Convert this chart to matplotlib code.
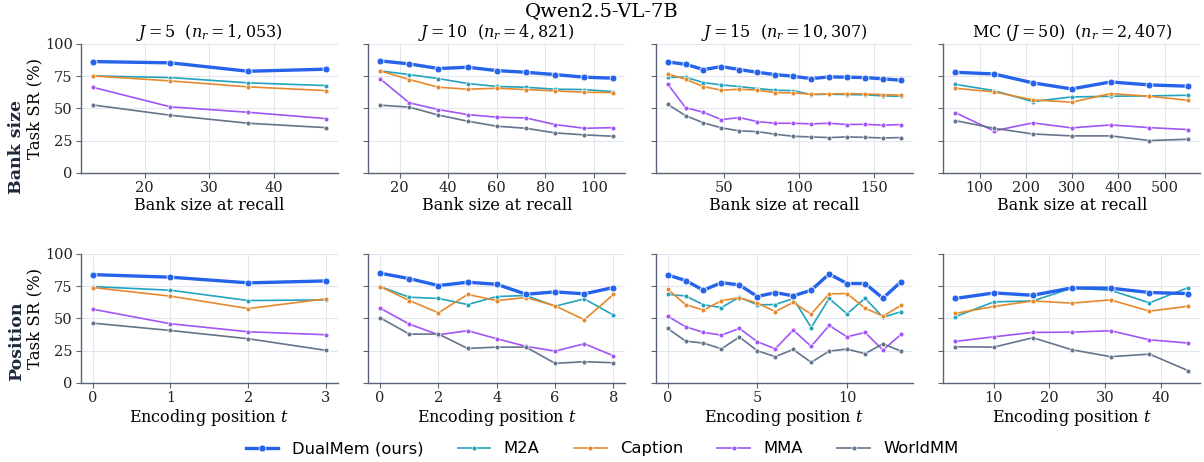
import numpy as np
import matplotlib
matplotlib.use("Agg")
from matplotlib import pyplot as plt
from matplotlib.lines import Line2D

plt.rcParams['font.family'] = 'DejaVu Serif'
plt.rcParams['mathtext.fontset'] = 'dejavuserif'

methods = ['DualMem (ours)', 'M2A', 'Caption', 'MMA', 'WorldMM']
colors = ['#2563eb', '#22a3bd', '#e5892c', '#a155f5', '#64748b']

panel_titles = [r'$J=5$  $(n_r=1,053)$', r'$J=10$  $(n_r=4,821)$',
                r'$J=15$  $(n_r=10,307)$', r'MC $(J=50)$  $(n_r=2,407)$']

# ---- row 1: bank size at recall ----
bank_x = [
    [12, 24, 36, 48],
    [12, 24, 36, 48, 60, 72, 84, 96, 108],
    [12, 24, 36, 48, 60, 72, 84, 96, 108, 120, 132, 144, 156, 168],
    [47, 131, 215, 299, 383, 467, 551],
]
bank_dualmem = [
    [86.3, 85.3, 78.8, 80.4],
    [86.8, 84.5, 80.9, 81.9, 79.3, 78.0, 76.2, 74.2, 73.4],
    [86.0, 84.2, 80.1, 82.4, 80.1, 78.0, 76.2, 74.9, 73.1, 74.4, 74.2, 73.9, 72.9, 71.8],
    [78.0, 76.7, 69.8, 65.1, 70.5, 68.2, 67.2],
]
bank_m2a = [
    [75.2, 73.9, 69.8, 67.7],
    [79.1, 76.2, 73.1, 69.3, 67.0, 66.4, 64.9, 64.6, 63.0],
    [74.2, 74.2, 70.0, 68.2, 66.9, 65.4, 64.1, 63.8, 60.7, 61.0, 60.7, 60.5, 59.7, 59.4],
    [68.7, 63.8, 55.3, 58.9, 59.4, 59.7, 60.2],
]
bank_caption = [
    [75.2, 71.3, 66.7, 63.8],
    [79.1, 72.4, 66.4, 64.9, 65.6, 64.6, 63.6, 62.5, 62.3],
    [76.7, 72.6, 66.9, 64.1, 64.9, 64.1, 62.3, 62.0, 61.0, 61.2, 61.5, 61.2, 60.7, 60.2],
    [65.6, 62.8, 56.6, 54.8, 61.5, 59.4, 56.3],
]
bank_mma = [
    [66.4, 51.2, 47.0, 42.1],
    [72.9, 54.3, 49.1, 45.2, 43.2, 42.6, 37.5, 34.6, 35.1],
    [69.0, 50.6, 47.0, 41.3, 42.9, 39.8, 38.5, 38.5, 38.0, 38.5, 37.5, 37.7, 37.0, 37.5],
    [46.8, 32.6, 38.8, 34.9, 37.2, 35.1, 33.6],
]
bank_worldmm = [
    [52.7, 44.7, 38.5, 35.1],
    [52.5, 51.0, 44.8, 40.1, 36.2, 34.6, 31.0, 29.5, 28.4],
    [53.2, 44.4, 38.8, 34.9, 32.6, 32.0, 30.0, 28.4, 27.9, 27.4, 27.9, 27.6, 27.1, 27.4],
    [40.6, 34.6, 30.2, 28.7, 28.7, 25.1, 26.1],
]

# ---- row 2: encoding position ----
pos_x = [
    [0, 1, 2, 3],
    [0, 1, 2, 3, 4, 5, 6, 7, 8],
    [0, 1, 2, 3, 4, 5, 6, 7, 8, 9, 10, 11, 12, 13],
    [3, 10, 17, 24, 31, 38, 45],
]
pos_dualmem = [
    [84.0, 82.0, 77.6, 79.1],
    [85.1, 80.9, 75.5, 78.1, 76.5, 68.8, 70.6, 69.1, 74.0],
    [83.8, 79.4, 71.9, 77.8, 76.0, 67.0, 70.1, 67.5, 71.9, 84.5, 77.1, 77.1, 65.7, 78.4],
    [65.5, 69.8, 68.0, 73.7, 73.5, 70.1, 69.3],
]
pos_m2a = [
    [74.7, 71.9, 63.9, 64.4],
    [74.7, 66.5, 65.5, 60.8, 67.0, 67.8, 59.5, 65.2, 52.6],
    [68.6, 67.5, 60.6, 58.5, 66.5, 60.6, 60.8, 65.5, 43.0, 65.5, 53.6, 65.7, 51.0, 55.2],
    [51.3, 62.9, 63.6, 73.5, 71.9, 62.1, 74.0],
]
pos_caption = [
    [74.0, 67.3, 57.7, 65.2],
    [74.7, 63.9, 54.4, 68.6, 63.9, 66.2, 59.8, 49.0, 68.6],
    [72.7, 60.8, 56.4, 63.9, 66.0, 61.9, 55.4, 62.4, 53.4, 69.1, 69.3, 58.0, 51.8, 60.1],
    [53.9, 59.3, 63.6, 61.9, 64.4, 55.7, 59.5],
]
pos_mma = [
    [57.2, 45.9, 39.7, 37.4],
    [58.0, 45.6, 37.4, 40.5, 34.3, 28.4, 24.7, 30.4, 21.1],
    [51.8, 43.6, 39.2, 37.1, 42.3, 32.0, 26.5, 41.0, 28.4, 44.6, 35.8, 39.2, 25.5, 37.6],
    [32.2, 35.8, 39.2, 39.4, 40.5, 33.5, 30.9],
]
pos_worldmm = [
    [46.4, 40.7, 34.3, 25.3],
    [50.5, 37.9, 37.9, 26.8, 27.8, 27.8, 15.2, 16.5, 15.7],
    [42.3, 32.5, 30.9, 26.5, 35.6, 25.0, 20.4, 26.0, 16.0, 24.7, 26.3, 22.7, 30.4, 24.7],
    [28.1, 27.8, 35.1, 25.8, 20.4, 22.4, 9.5],
]

bank_series = [bank_dualmem, bank_m2a, bank_caption, bank_mma, bank_worldmm]
pos_series = [pos_dualmem, pos_m2a, pos_caption, pos_mma, pos_worldmm]

fig, axes = plt.subplots(2, 4, figsize=(12.04, 4.62), dpi=100)
fig.subplots_adjust(left=0.0673, right=0.9967, top=0.905, bottom=0.171,
                    wspace=0.12, hspace=0.628)

spine_col = '#5a6478'

def draw(ax, xs, series):
    for k in range(len(methods)):
        if k == 0:
            ax.plot(xs, series[k], color=colors[k], lw=2.4, marker='o', ms=5,
                    mec='white', mew=0.6, zorder=5)
        else:
            ax.plot(xs, series[k], color=colors[k], lw=1.2, marker='o', ms=3.5,
                    mec='white', mew=0.5, zorder=4)
    ax.set_ylim(0, 100)
    ax.set_yticks([0, 25, 50, 75, 100])
    ax.grid(True, color='#e3e6ee', lw=0.8)
    ax.set_axisbelow(True)
    for s in ['top', 'right']:
        ax.spines[s].set_visible(False)
    for s in ['left', 'bottom']:
        ax.spines[s].set_color(spine_col)
        ax.spines[s].set_linewidth(1.0)
    ax.tick_params(colors='#222222', labelsize=10.5, length=3.5, color=spine_col, pad=2.5)

for j in range(4):
    ax = axes[0, j]
    draw(ax, bank_x[j], [s[j] for s in bank_series])
    ax.set_title(panel_titles[j], fontsize=11.5, pad=5)
    ax.set_xlabel('Bank size at recall', fontsize=11.5, labelpad=1)
    ax = axes[1, j]
    draw(ax, pos_x[j], [s[j] for s in pos_series])
    ax.set_xlabel(r'Encoding position $t$', fontsize=11.5, labelpad=1)
    if j > 0:
        axes[0, j].set_yticklabels([])
        axes[1, j].set_yticklabels([])

axes[0, 0].set_xticks([20, 30, 40])
axes[0, 1].set_xticks([20, 40, 60, 80, 100])
axes[0, 2].set_xticks([50, 100, 150])
axes[0, 3].set_xticks([100, 200, 300, 400, 500])
axes[1, 3].set_xticks([10, 20, 30, 40])

for r in range(2):
    axes[r, 0].set_ylabel('Task SR (%)', fontsize=12)
    axes[r, 0].yaxis.set_label_coords(-0.148, 0.5)

# row labels sit a bit below the row centres, as in the original
fig.text(0.0135, 0.683, 'Bank size', rotation=90, ha='center', va='center',
         fontsize=12.5, fontweight='bold', color='#1e293b')
fig.text(0.0135, 0.262, 'Position', rotation=90, ha='center', va='center',
         fontsize=12.5, fontweight='bold', color='#1e293b')

fig.suptitle('Qwen2.5-VL-7B', fontsize=14, y=0.995)

handles = []
for k in range(len(methods)):
    handles.append(Line2D([0], [0], color=colors[k], lw=2.4 if k == 0 else 1.2,
                          marker='o', ms=5 if k == 0 else 3.5, mec='white', mew=0.5))
fig.legend(handles, methods, loc='lower center', ncol=5, frameon=False,
           bbox_to_anchor=(0.5, -0.02), prop={'family': 'DejaVu Sans', 'size': 11.8},
           columnspacing=2.1, handlelength=2.0)

fig.savefig('out.png', dpi=100)
